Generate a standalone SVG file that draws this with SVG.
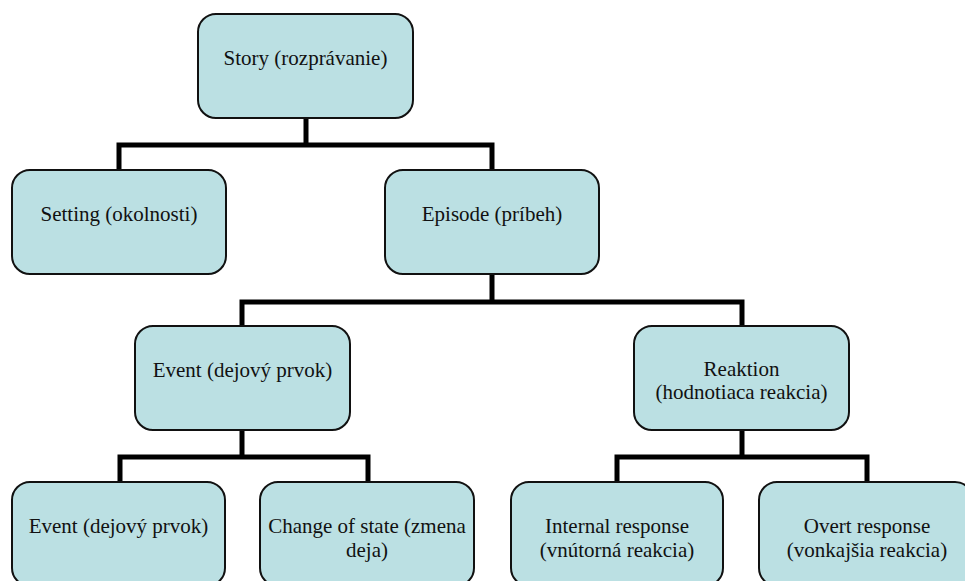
<svg xmlns="http://www.w3.org/2000/svg" width="965" height="581" viewBox="0 0 965 581" font-family="'Liberation Serif', 'Times New Roman', serif">
<rect width="965" height="581" fill="#fff"/>
<g id="connectors" fill="none" stroke="#000" stroke-width="5">
<path d="M306 118 V145 M119 170 V145 H492 V170"/>
<path d="M492 274 V302 M242 326 V302 H742 V326"/>
<path d="M242 430 V457 M120 482 V457 H368 V482"/>
<path d="M742 430 V457 M617 482 V457 H867 V482"/>
</g>
<g id="story">
<rect x="198" y="14" width="215" height="104" rx="18" fill="#BBE0E3" stroke="#111" stroke-width="2"/>
<text x="305.5" y="65" style="font-family:'Liberation Serif',serif;font-size:21px;fill:#111;text-anchor:middle">Story (rozprávanie)</text>
</g>
<g id="setting">
<rect x="12" y="170" width="214" height="104" rx="18" fill="#BBE0E3" stroke="#111" stroke-width="2"/>
<text x="119" y="221" style="font-family:'Liberation Serif',serif;font-size:21px;fill:#111;text-anchor:middle">Setting (okolnosti)</text>
</g>
<g id="episode">
<rect x="385" y="170" width="214" height="104" rx="18" fill="#BBE0E3" stroke="#111" stroke-width="2"/>
<text x="492" y="221" style="font-family:'Liberation Serif',serif;font-size:21px;fill:#111;text-anchor:middle">Episode (príbeh)</text>
</g>
<g id="event">
<rect x="135" y="326" width="215" height="104" rx="18" fill="#BBE0E3" stroke="#111" stroke-width="2"/>
<text x="242.5" y="377" style="font-family:'Liberation Serif',serif;font-size:21px;fill:#111;text-anchor:middle">Event (dejový prvok)</text>
</g>
<g id="reaktion">
<rect x="634" y="326" width="215" height="104" rx="18" fill="#BBE0E3" stroke="#111" stroke-width="2"/>
<text x="741.5" y="376" style="font-family:'Liberation Serif',serif;font-size:21px;fill:#111;text-anchor:middle">Reaktion</text>
<text x="741.5" y="399" style="font-family:'Liberation Serif',serif;font-size:21px;fill:#111;text-anchor:middle">(hodnotiaca reakcia)</text>
</g>
<g id="event2">
<rect x="12" y="482" width="213" height="104" rx="18" fill="#BBE0E3" stroke="#111" stroke-width="2"/>
<text x="118.5" y="533" style="font-family:'Liberation Serif',serif;font-size:21px;fill:#111;text-anchor:middle">Event (dejový prvok)</text>
</g>
<g id="change">
<rect x="260" y="482" width="214" height="104" rx="18" fill="#BBE0E3" stroke="#111" stroke-width="2"/>
<text x="367" y="533" style="font-family:'Liberation Serif',serif;font-size:21px;fill:#111;text-anchor:middle">Change of state (zmena</text>
<text x="367" y="557" style="font-family:'Liberation Serif',serif;font-size:21px;fill:#111;text-anchor:middle">deja)</text>
</g>
<g id="internal">
<rect x="511" y="482" width="212" height="104" rx="18" fill="#BBE0E3" stroke="#111" stroke-width="2"/>
<text x="617" y="533" style="font-family:'Liberation Serif',serif;font-size:21px;fill:#111;text-anchor:middle">Internal response</text>
<text x="617" y="557" style="font-family:'Liberation Serif',serif;font-size:21px;fill:#111;text-anchor:middle">(vnútorná reakcia)</text>
</g>
<g id="overt">
<rect x="759" y="482" width="214" height="104" rx="18" fill="#BBE0E3" stroke="#111" stroke-width="2"/>
<text x="867" y="533" style="font-family:'Liberation Serif',serif;font-size:21px;fill:#111;text-anchor:middle">Overt response</text>
<text x="867" y="557" style="font-family:'Liberation Serif',serif;font-size:21px;fill:#111;text-anchor:middle">(vonkajšia reakcia)</text>
</g>
</svg>
